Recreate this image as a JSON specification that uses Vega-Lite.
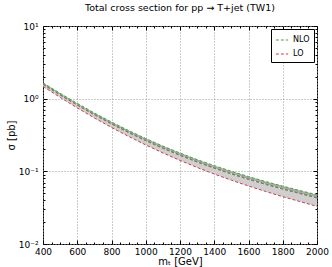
{
  "$schema": "https://vega.github.io/schema/vega-lite/v6.json",
  "width": 274,
  "height": 218,
  "autosize": "none",
  "padding": {"left": 43, "top": 26, "right": 15, "bottom": 23},
  "title": {"text": "Total cross section for pp → T+jet (TW1)", "font": "DejaVu Sans", "fontSize": 9.5, "fontWeight": "normal", "anchor": "middle", "offset": 10, "color": "#000"},
  "config": {
    "view": {"stroke": "#000", "strokeWidth": 1},
    "font": "DejaVu Sans",
    "axis": {"labelFont": "DejaVu Sans", "titleFont": "DejaVu Sans", "labelColor": "#000", "titleColor": "#000", "tickColor": "#000", "domain": false, "titleFontWeight": "normal"}
  },
  "data": {"values": [
    {"m": 400, "nh": 1.654, "nl": 1.590, "lh": 1.573, "ll": 1.476},
    {"m": 500, "nh": 1.185, "nl": 1.135, "lh": 1.123, "ll": 1.042},
    {"m": 600, "nh": 0.861, "nl": 0.822, "lh": 0.814, "ll": 0.746},
    {"m": 700, "nh": 0.636, "nl": 0.605, "lh": 0.599, "ll": 0.543},
    {"m": 800, "nh": 0.478, "nl": 0.453, "lh": 0.449, "ll": 0.402},
    {"m": 900, "nh": 0.364, "nl": 0.345, "lh": 0.341, "ll": 0.302},
    {"m": 1000, "nh": 0.283, "nl": 0.266, "lh": 0.264, "ll": 0.231},
    {"m": 1100, "nh": 0.2229, "nl": 0.2095, "lh": 0.2074, "ll": 0.1792},
    {"m": 1200, "nh": 0.1786, "nl": 0.1673, "lh": 0.1656, "ll": 0.1413},
    {"m": 1300, "nh": 0.1452, "nl": 0.1356, "lh": 0.1342, "ll": 0.1131},
    {"m": 1400, "nh": 0.1198, "nl": 0.1115, "lh": 0.1103, "ll": 0.0918},
    {"m": 1500, "nh": 0.1002, "nl": 0.0930, "lh": 0.0920, "ll": 0.0755},
    {"m": 1600, "nh": 0.0847, "nl": 0.0783, "lh": 0.0775, "ll": 0.0628},
    {"m": 1700, "nh": 0.0724, "nl": 0.0668, "lh": 0.0661, "ll": 0.0528},
    {"m": 1800, "nh": 0.0626, "nl": 0.0575, "lh": 0.0569, "ll": 0.0448},
    {"m": 1900, "nh": 0.0544, "nl": 0.0499, "lh": 0.0494, "ll": 0.0384},
    {"m": 2000, "nh": 0.0476, "nl": 0.0435, "lh": 0.0431, "ll": 0.0330}
  ]},
  "resolve": {"axis": {"x": "independent", "y": "independent"}},
  "layer": [
    {
      "mark": {"type": "area", "color": "#cfcfcf"},
      "encoding": {
        "x": {"field": "m", "type": "quantitative", "scale": {"domain": [400, 2000], "nice": false, "zero": false},
          "axis": {"orient": "bottom", "title": "mₜ [GeV]", "titleFontSize": 10, "titlePadding": 0, "labelFontSize": 9, "labelPadding": 7,
            "values": [400,450,500,550,600,650,700,750,800,850,900,950,1000,1050,1100,1150,1200,1250,1300,1350,1400,1450,1500,1550,1600,1650,1700,1750,1800,1850,1900,1950,2000],
            "labelExpr": "datum.value % 200 === 0 ? datum.label : ''",
            "labelFlush": false,
            "format": "d",
            "tickSize": {"condition": {"test": "datum.value % 200 === 0", "value": -4}, "value": -2},
            "grid": true, "gridColor": "#999", "gridDash": [1, 2],
            "gridOpacity": {"condition": {"test": "datum.value % 200 === 0", "value": 1}, "value": 0}}},
        "y": {"field": "ll", "type": "quantitative", "scale": {"type": "log", "domain": [0.01, 10], "nice": false},
          "axis": {"orient": "left", "title": "σ [pb]", "titleFontSize": 10, "titlePadding": 2, "labelFontSize": 9, "labelPadding": 9,
            "values": [0.01,0.02,0.03,0.04,0.05,0.06,0.07,0.08,0.09,0.1,0.2,0.3,0.4,0.5,0.6,0.7,0.8,0.9,1,2,3,4,5,6,7,8,9,10],
            "labelExpr": "datum.value == 10 ? '10¹' : datum.value == 1 ? '10⁰' : datum.value == 0.1 ? '10⁻¹' : datum.value == 0.01 ? '10⁻²' : ''",
            "tickSize": {"condition": {"test": "indexof([0.01,0.1,1,10], datum.value) >= 0", "value": -4}, "value": -2},
            "grid": true, "gridColor": "#999", "gridDash": [1, 2],
            "gridOpacity": {"condition": {"test": "indexof([0.01,0.1,1,10], datum.value) >= 0", "value": 1}, "value": 0}}},
        "y2": {"field": "lh"}
      }
    },
    {
      "mark": {"type": "area", "color": "#a9a9a9"},
      "encoding": {
        "x": {"field": "m", "type": "quantitative",
          "axis": {"orient": "top", "title": null, "labels": false, "grid": false,
            "values": [400,450,500,550,600,650,700,750,800,850,900,950,1000,1050,1100,1150,1200,1250,1300,1350,1400,1450,1500,1550,1600,1650,1700,1750,1800,1850,1900,1950,2000],
            "tickSize": {"condition": {"test": "datum.value % 200 === 0", "value": -4}, "value": -2}}},
        "y": {"field": "nl", "type": "quantitative",
          "axis": {"orient": "right", "title": null, "labels": false, "grid": false,
            "values": [0.01,0.02,0.03,0.04,0.05,0.06,0.07,0.08,0.09,0.1,0.2,0.3,0.4,0.5,0.6,0.7,0.8,0.9,1,2,3,4,5,6,7,8,9,10],
            "tickSize": {"condition": {"test": "indexof([0.01,0.1,1,10], datum.value) >= 0", "value": -4}, "value": -2}}},
        "y2": {"field": "nh"}
      }
    },
    {
      "mark": {"type": "line", "strokeDash": [3, 2], "strokeWidth": 1},
      "encoding": {
        "x": {"field": "m", "type": "quantitative", "axis": null},
        "y": {"field": "ll", "type": "quantitative", "axis": null},
        "color": {"datum": "LO", "type": "nominal", "scale": {"domain": ["NLO", "LO"], "range": ["#4e9e4e", "#c8404f"]},
          "legend": {"orient": "top-right", "offset": 3, "title": null, "strokeColor": "#000", "fillColor": "#fff", "padding": 4, "labelFontSize": 8, "labelFont": "DejaVu Sans", "symbolType": "stroke", "symbolStrokeWidth": 1.2, "symbolDash": [3, 2], "symbolSize": 150, "rowPadding": 3, "cornerRadius": 0}}
      }
    },
    {
      "mark": {"type": "line", "strokeDash": [3, 2], "strokeWidth": 1},
      "encoding": {
        "x": {"field": "m", "type": "quantitative", "axis": null},
        "y": {"field": "lh", "type": "quantitative", "axis": null},
        "color": {"datum": "LO", "type": "nominal"}
      }
    },
    {
      "mark": {"type": "line", "strokeDash": [3, 2], "strokeWidth": 1},
      "encoding": {
        "x": {"field": "m", "type": "quantitative", "axis": null},
        "y": {"field": "nl", "type": "quantitative", "axis": null},
        "color": {"datum": "NLO", "type": "nominal"}
      }
    },
    {
      "mark": {"type": "line", "strokeDash": [3, 2], "strokeWidth": 1},
      "encoding": {
        "x": {"field": "m", "type": "quantitative", "axis": null},
        "y": {"field": "nh", "type": "quantitative", "axis": null},
        "color": {"datum": "NLO", "type": "nominal"}
      }
    }
  ]
}
